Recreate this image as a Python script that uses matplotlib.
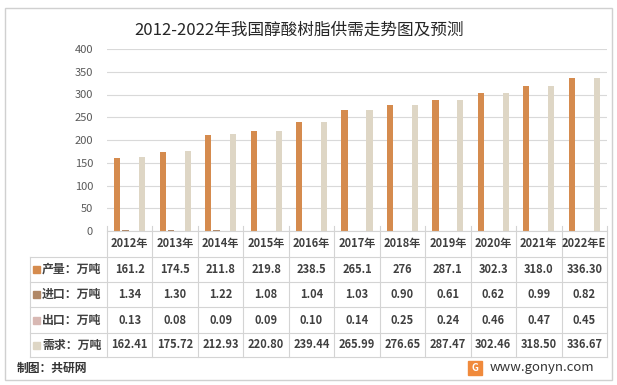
import matplotlib.pyplot as plt
import numpy as np
from matplotlib.patches import Rectangle
from matplotlib.lines import Line2D

plt.rcParams['font.family'] = ['Noto Sans CJK SC', 'DejaVu Sans']

# data
years = ['2012年', '2013年', '2014年', '2015年', '2016年', '2017年',
         '2018年', '2019年', '2020年', '2021年', '2022年E']
production = [161.2, 174.5, 211.8, 219.8, 238.5, 265.1, 276, 287.1, 302.3, 318.0, 336.30]
imports = [1.34, 1.30, 1.22, 1.08, 1.04, 1.03, 0.90, 0.61, 0.62, 0.99, 0.82]
exports = [0.13, 0.08, 0.09, 0.09, 0.10, 0.14, 0.25, 0.24, 0.46, 0.47, 0.45]
demand = [162.41, 175.72, 212.93, 220.80, 239.44, 265.99, 276.65, 287.47, 302.46, 318.50, 336.67]

prod_txt = ['161.2', '174.5', '211.8', '219.8', '238.5', '265.1', '276', '287.1', '302.3', '318.0', '336.30']
imp_txt = ['1.34', '1.30', '1.22', '1.08', '1.04', '1.03', '0.90', '0.61', '0.62', '0.99', '0.82']
exp_txt = ['0.13', '0.08', '0.09', '0.09', '0.10', '0.14', '0.25', '0.24', '0.46', '0.47', '0.45']
dem_txt = ['162.41', '175.72', '212.93', '220.80', '239.44', '265.99', '276.65', '287.47', '302.46', '318.50', '336.67']

series = [
    ('产量：万吨', production, prod_txt, '#D58B4E'),
    ('进口：万吨', imports, imp_txt, '#B08766'),
    ('出口：万吨', exports, exp_txt, '#D8B8B3'),
    ('需求：万吨', demand, dem_txt, '#DED6C5'),
]

W, H = 617, 385
fig = plt.figure(figsize=(W / 100, H / 100), dpi=100)

# pixel helpers
def fx(px):
    return px / W

def fy(py):
    return 1 - py / H

ax_l, ax_r, ax_t, ax_b = 107, 607, 49, 231
ax = fig.add_axes([fx(ax_l), fy(ax_b), fx(ax_r) - fx(ax_l), fy(ax_t) - fy(ax_b)])

n = len(years)
x = np.arange(n)
bw = 0.135
step = 0.183
offsets = [-1.5, -0.5, 0.5, 1.5]
for (name, vals, _, col), off in zip(series, offsets):
    ax.bar(x + off * step, vals, width=bw, color=col, zorder=3)

ax.set_xlim(-0.5, n - 0.5)
ax.set_ylim(0, 400)
ax.set_yticks(range(0, 401, 50))
ax.tick_params(axis='y', length=0, labelsize=8, labelcolor='#595959', pad=10)
ax.set_xticks([])
ax.grid(axis='y', color='#D9D9D9', linewidth=0.8, zorder=0)
for s in ax.spines.values():
    s.set_visible(False)

fig.text(0.485, fy(30), '2012-2022年我国醇酸树脂供需走势图及预测',
         ha='center', va='center', fontsize=12, color='#262626')

# data table
lc = '#D4D4D4'
row_lines = [231, 257, 282, 307, 333, 357]
cw = (ax_r - ax_l) / n
# horizontal lines
fig.add_artist(Line2D([fx(ax_l), fx(ax_r)], [fy(231)] * 2, color=lc, lw=0.8))
for yy in row_lines[1:]:
    fig.add_artist(Line2D([fx(30), fx(ax_r)], [fy(yy)] * 2, color=lc, lw=0.8))
# vertical lines
for i in range(n + 1):
    xx = ax_l + i * cw
    fig.add_artist(Line2D([fx(xx)] * 2, [fy(226), fy(357)], color=lc, lw=0.8))
fig.add_artist(Line2D([fx(30)] * 2, [fy(257), fy(357)], color=lc, lw=0.8))

tc = '#404040'
for i, yr in enumerate(years):
    fig.text(fx(ax_l + (i + 0.5) * cw), fy(244), yr, ha='center', va='center',
             fontsize=8, color=tc, fontweight='bold')
for r, (name, vals, txt, col) in enumerate(series):
    yc = (row_lines[r + 1] + row_lines[r + 2]) / 2
    fig.add_artist(Rectangle((fx(33), fy(yc + 3.5)), fx(7), 7 / H, color=col))
    fig.text(fx(42), fy(yc), name, ha='left', va='center', fontsize=8.6,
             color=tc, fontweight='bold')
    for i, t in enumerate(txt):
        fig.text(fx(ax_l + (i + 0.5) * cw), fy(yc), t, ha='center', va='center',
                 fontsize=8, color=tc, fontweight='bold')

# footer
fig.text(fx(17), fy(368), '制图：共研网', ha='left', va='center', fontsize=8.5,
         color='#333333', fontweight='bold')
fig.add_artist(Rectangle((fx(468), fy(375)), fx(14), 14 / H, color='#F08A3C'))
fig.text(fx(475), fy(368), 'G', ha='center', va='center', fontsize=7,
         color='white', fontweight='bold')
fig.text(fx(490), fy(367), 'www.gonyn.com', ha='left', va='center', fontsize=9.5,
         color='#333333')

# outer frame
fig.add_artist(Rectangle((fx(5), fy(380)), fx(607), 372 / H, fill=False,
                         edgecolor='#D0D0D0', lw=1))

fig.savefig('out.png', dpi=100)
